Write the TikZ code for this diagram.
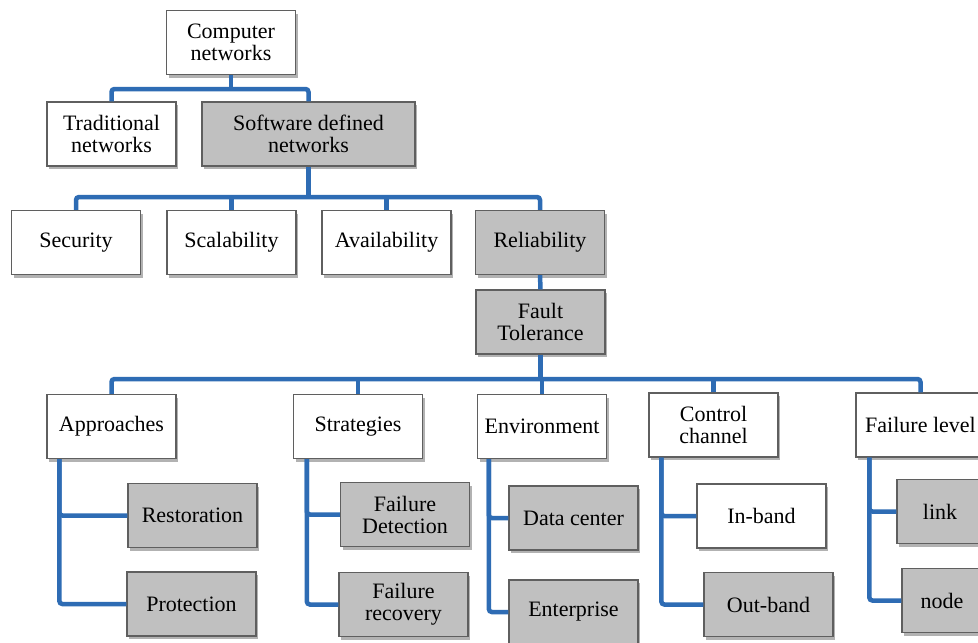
\documentclass[tikz,border=0pt]{standalone}
\usepackage{fontspec}
\setmainfont{LiberationSerif}[Extension=.ttf, UprightFont=*-Regular, BoldFont=*-Bold]
\usetikzlibrary{shadows,calc}
\definecolor{linkblue}{RGB}{46,108,180}
\definecolor{boxgray}{RGB}{192,192,192}
\definecolor{edgegray}{RGB}{95,95,95}
\begin{document}
\begin{tikzpicture}[x=1pt,y=-1pt,
  box/.style={draw=edgegray, line width=1.3pt, fill=white, align=center,
    inner sep=0pt, minimum width=129pt, minimum height=64pt,
    font=\fontsize{22}{22}\selectfont,
    drop shadow={shadow xshift=2pt, shadow yshift=-3pt, fill=black, opacity=0.3}},
  grey/.style={box, fill=boxgray},
  conn/.style={draw=linkblue, line width=4.5pt, rounded corners=3pt}]
\useasboundingbox (0,0) rectangle (978,643);
\fill[white] (0,0) rectangle (978,643);
\clip (0,0) rectangle (978,643);

% top levels
\node[box]  (cn)   at (231,42.5)  {Computer\\networks};
\node[box]  (tn)   at (111.5,134) {Traditional\\networks};
\node[grey, minimum width=213pt] (sdn) at (308.5,134) {Software defined\\networks};

\node[box]  (sec)   at (76,242.5)    {Security};
\node[box]  (scal)  at (231.5,242.5) {Scalability};
\node[box]  (avail) at (386.5,242.5) {Availability};
\node[grey] (rel)   at (540,242.5)   {Reliability};
\node[grey] (ft)    at (540.5,322)   {Fault\\Tolerance};

% fault tolerance categories
\node[box] (appr)  at (111.5,426.5) {Approaches};
\node[box] (strat) at (358,426.5)   {Strategies};
\node[box] (env)   at (542,426.5)   {Environment};
\node[box] (ctrl)  at (713.5,425)   {Control\\channel};
\node[box] (flev)  at (920.5,425)   {Failure level};

% leaves
\node[grey] (rest)  at (192.5,515.5) {Restoration};
\node[grey] (prot)  at (191.5,604)   {Protection};
\node[grey] (fdet)  at (405,514.5)   {Failure\\Detection};
\node[grey] (frec)  at (403.5,604.5) {Failure\\recovery};
\node[grey] (dc)    at (573.5,518)   {Data center};
\node[grey] (ent)   at (573.5,612)   {Enterprise};
\node[box]  (inb)   at (761.5,516)   {In-band};
\node[grey] (outb)  at (768.5,604.5) {Out-band};
\node[grey, minimum width=86pt] (lnk)  at (940,511.5) {link};
\node[grey, minimum width=80pt] (nde)  at (942,600.5) {node};

% buses
\coordinate (bus1) at (231,89);
\coordinate (bus2) at (308.5,197);
\coordinate (bus3) at (540.5,379);

\draw[conn] (cn.south) -- (bus1);
\draw[conn] (tn.north) |- (bus1) -| (sdn.north);

\draw[conn] (sdn.south) -- (bus2);
\draw[conn] (sec.north) |- (bus2) -| (rel.north);
\draw[conn] (scal.north) -- (scal.north |- bus2);
\draw[conn] (avail.north) -- (avail.north |- bus2);

\draw[conn] (rel.south) -- (ft.north);

\draw[conn] (ft.south) -- (bus3);
\draw[conn] (appr.north) |- (bus3) -| (flev.north);
\draw[conn] (strat.north) -- (strat.north |- bus3);
\draw[conn] (env.north) -- (env.north |- bus3);
\draw[conn] (ctrl.north) -- (ctrl.north |- bus3);

% branch stems
\coordinate (apS) at ($(appr.south west)+(13,0)$);
\coordinate (stS) at ($(strat.south west)+(14,0)$);
\coordinate (enS) at ($(env.south west)+(12,0)$);
\coordinate (ctS) at ($(ctrl.south west)+(13,0)$);
\coordinate (flS) at ($(flev.south west)+(14,0)$);

\draw[conn] (apS) |- (rest.west);
\draw[conn] (apS) |- (prot.west);
\draw[conn] (stS) |- (fdet.west);
\draw[conn] (stS) |- (frec.west);
\draw[conn] (enS) |- (dc.west);
\draw[conn] (enS) |- (ent.west);
\draw[conn] (ctS) |- (inb.west);
\draw[conn] (ctS) |- (outb.west);
\draw[conn] (flS) |- (lnk.west);
\draw[conn] (flS) |- (nde.west);
\end{tikzpicture}
\end{document}
